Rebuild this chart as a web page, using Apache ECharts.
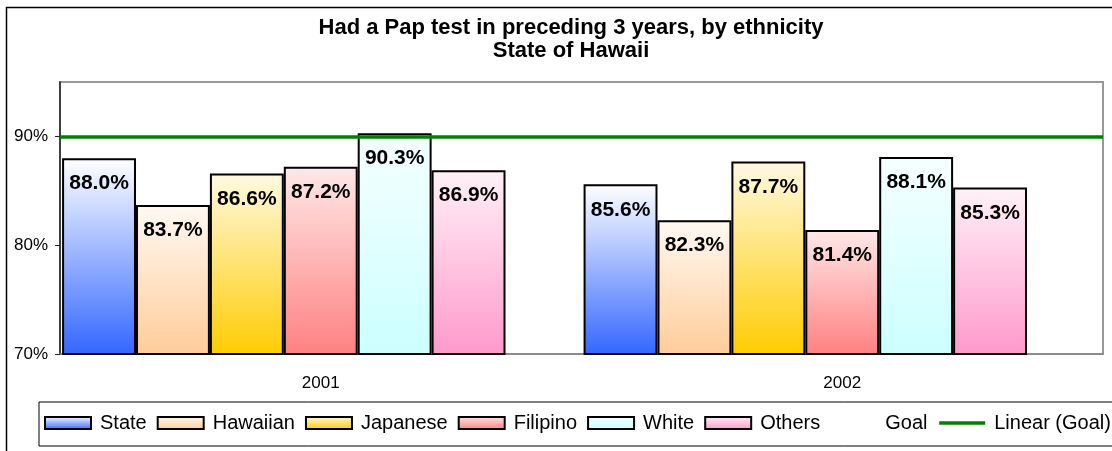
<!DOCTYPE html>
<html>
<head>
<meta charset="utf-8">
<script src="https://cdn.jsdelivr.net/npm/echarts@6/dist/echarts.min.js"></script>
<style>
  html, body { margin: 0; padding: 0; background: #fff; }
  #chart { width: 1112px; height: 451px; }
</style>
</head>
<body>
<div id="chart"></div>
<script>
const years = ['2001', '2002'];
const state = [88.0, 85.6];
const hawaiian = [83.7, 82.3];
const japanese = [86.6, 87.7];
const filipino = [87.2, 81.4];
const white = [90.3, 88.1];
const others = [86.9, 85.3];
const goal = [90, 90];
const yTicks = [70, 80, 90];

const FONT = '"Liberation Sans", Arial, sans-serif';

// top colour -> bottom colour of each bar gradient
const barColors = {
  'State': ['#ffffff', '#3366ff'],
  'Hawaiian': ['#fff9f3', '#ffcc99'],
  'Japanese': ['#fff9e2', '#ffcc00'],
  'Filipino': ['#ffe8e8', '#ff8080'],
  'White': ['#f6ffff', '#ccffff'],
  'Others': ['#fff1f7', '#ff99cc']
};

const grad = (c) => new echarts.graphic.LinearGradient(0, 0, 0, 1, [
  { offset: 0, color: c[0] },
  { offset: 1, color: c[1] }
]);

// linear trend of the goal series (flat, so it sits at the mean)
const trendValue = goal.reduce((a, b) => a + b, 0) / goal.length;

const barSeries = [
  ['State', state],
  ['Hawaiian', hawaiian],
  ['Japanese', japanese],
  ['Filipino', filipino],
  ['White', white],
  ['Others', others]
].map(([name, values]) => ({
  name: name,
  type: 'bar',
  data: values,
  barGap: '0%',
  barCategoryGap: '0.8%',
  itemStyle: { color: grad(barColors[name]), borderColor: '#000', borderWidth: 2 },
  label: {
    show: true,
    position: 'insideTop',
    distance: 15,
    formatter: (p) => p.value.toFixed(1) + '%',
    color: '#000',
    fontFamily: FONT,
    fontWeight: 'bold',
    fontSize: 21
  }
}));

const myChart = echarts.init(document.getElementById('chart'));

const option = {
  backgroundColor: '#fff',
  animation: false,
  title: {
    text: 'Had a Pap test in preceding 3 years, by ethnicity\nState of Hawaii',
    left: 566,
    top: 11,
    textAlign: 'center',
    textStyle: {
      fontFamily: FONT,
      fontWeight: 'bold',
      fontSize: 22,
      lineHeight: 23,
      color: '#000'
    }
  },
  graphic: [{
    type: 'rect',
    shape: { x: 6.5, y: 7.5, width: 1300, height: 600 },
    style: { fill: 'none', stroke: '#000', lineWidth: 1.5 },
    silent: true,
    z: -1
  }],
  legend: {
    left: 39,
    top: 402,
    width: 1400,
    padding: [11, 60, 13, 5],
    itemWidth: 46,
    itemHeight: 12,
    itemGap: 10,
    borderColor: '#000',
    borderWidth: 1,
    textStyle: { fontFamily: FONT, fontSize: 20, color: '#000', padding: [0, 0, 0, 4] },
    data: [
      ...barSeries.map(s => ({ name: s.name, icon: 'rect', itemStyle: { borderColor: '#000', borderWidth: 2 } })),
      { name: 'Goal', icon: 'rect', itemStyle: { color: 'rgba(0,0,0,0)', borderWidth: 0 } },
      {
        name: 'Linear (Goal)',
        itemStyle: { color: 'rgba(0,0,0,0)', borderWidth: 0, opacity: 0 },
        lineStyle: { color: '#008000', width: 3.5 }
      }
    ]
  },
  grid: {
    left: 60,
    right: 9,
    top: 82,
    bottom: 97,
    show: true,
    borderColor: '#999',
    borderWidth: 2
  },
  xAxis: {
    type: 'category',
    data: years,
    axisLine: { lineStyle: { color: '#888', width: 1.5 } },
    axisTick: { length: 6, lineStyle: { color: '#555' } },
    axisLabel: { margin: 21, fontFamily: FONT, fontSize: 17, color: '#000' }
  },
  yAxis: {
    type: 'value',
    min: 70,
    max: 95,
    interval: 10,
    splitLine: { show: false },
    axisLine: { show: true, lineStyle: { color: '#222', width: 1.5 } },
    axisTick: { show: true, length: 5, customValues: yTicks, lineStyle: { color: '#222' } },
    axisLabel: {
      customValues: yTicks,
      margin: 12,
      fontFamily: FONT,
      fontSize: 17,
      color: '#000',
      formatter: (v) => (v % 10 === 0 ? v + '%' : '')
    }
  },
  series: [
    ...barSeries,
    {
      name: 'Goal',
      type: 'bar',
      data: goal,
      barGap: '0%',
      barCategoryGap: '0.8%',
      itemStyle: { color: 'rgba(0,0,0,0)', borderWidth: 0 },
      label: { show: false },
      silent: true
    },
    {
      name: 'Linear (Goal)',
      type: 'line',
      data: [],
      symbol: 'none',
      z: 5,
      itemStyle: { color: '#008000' },
      lineStyle: { color: '#008000', width: 3.5 },
      markLine: {
        silent: true,
        symbol: ['none', 'none'],
        label: { show: false },
        lineStyle: { color: '#008000', width: 3.5, type: 'solid' },
        data: [{ yAxis: trendValue }]
      }
    }
  ]
};

option && myChart.setOption(option);
</script>
</body>
</html>
